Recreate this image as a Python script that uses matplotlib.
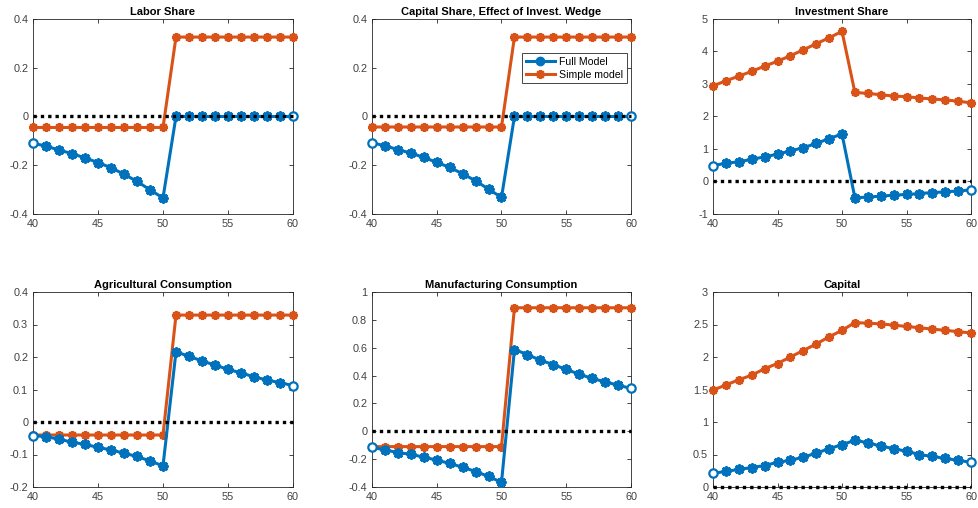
import numpy as np
import matplotlib
matplotlib.use('Agg')
import matplotlib.pyplot as plt
from matplotlib.lines import Line2D

plt.rcParams['font.family'] = ['Liberation Sans', 'DejaVu Sans']

t = np.arange(40, 61)

titles = ['Labor Share', 'Capital Share, Effect of Invest. Wedge', 'Investment Share',
          'Agricultural Consumption', 'Manufacturing Consumption', 'Capital']

# labor share (full / simple)
labor_full = [-0.110, -0.121, -0.138, -0.152, -0.170, -0.189, -0.210, -0.237, -0.266, -0.301, -0.334,
              0, 0, 0, 0, 0, 0, 0, 0, 0, 0]
labor_simple = [-0.045]*11 + [0.326]*10

# capital share, effect of invest. wedge
capsh_full = [-0.108, -0.120, -0.136, -0.150, -0.168, -0.188, -0.209, -0.235, -0.264, -0.298, -0.332,
              0, 0, 0, 0, 0, 0, 0, 0, 0, 0]
capsh_simple = [-0.043]*11 + [0.326]*10

# investment share
inv_full = [0.49, 0.56, 0.61, 0.68, 0.76, 0.84, 0.94, 1.04, 1.17, 1.32, 1.46,
            -0.50, -0.48, -0.45, -0.42, -0.40, -0.37, -0.34, -0.32, -0.29, -0.26]
inv_simple = [2.94, 3.10, 3.24, 3.39, 3.55, 3.70, 3.87, 4.05, 4.24, 4.42, 4.62,
              2.74, 2.71, 2.67, 2.63, 2.61, 2.57, 2.54, 2.51, 2.47, 2.42]

# agricultural consumption
agr_full = [-0.042, -0.045, -0.053, -0.062, -0.069, -0.078, -0.086, -0.096, -0.106, -0.120, -0.135,
            0.216, 0.202, 0.188, 0.175, 0.162, 0.151, 0.139, 0.129, 0.121, 0.112]
agr_simple = [-0.040]*11 + [0.329]*10

# manufacturing consumption
man_full = [-0.115, -0.134, -0.153, -0.165, -0.186, -0.207, -0.231, -0.258, -0.289, -0.324, -0.367,
            0.587, 0.551, 0.510, 0.479, 0.444, 0.410, 0.379, 0.355, 0.331, 0.308]
man_simple = [-0.110]*11 + [0.887]*10

# capital
cap_full = [0.21, 0.24, 0.27, 0.30, 0.33, 0.38, 0.41, 0.46, 0.52, 0.59, 0.65,
            0.72, 0.68, 0.63, 0.59, 0.55, 0.50, 0.47, 0.44, 0.41, 0.38]
cap_simple = [1.49, 1.57, 1.65, 1.72, 1.82, 1.90, 2.00, 2.10, 2.20, 2.31, 2.41,
              2.53, 2.52, 2.51, 2.49, 2.47, 2.45, 2.43, 2.41, 2.39, 2.37]

full = [labor_full, capsh_full, inv_full, agr_full, man_full, cap_full]
simple = [labor_simple, capsh_simple, inv_simple, agr_simple, man_simple, cap_simple]

ylims = [(-0.4, 0.4), (-0.4, 0.4), (-1, 5), (-0.2, 0.4), (-0.4, 1), (0, 3)]
yticks = [np.arange(-0.4, 0.41, 0.2), np.arange(-0.4, 0.41, 0.2), np.arange(-1, 6, 1),
          np.arange(-0.2, 0.41, 0.1), np.arange(-0.4, 1.01, 0.2), np.arange(0, 3.01, 0.5)]
ytlabels = [['-0.4', '-0.2', '0', '0.2', '0.4'], ['-0.4', '-0.2', '0', '0.2', '0.4'],
            ['-1', '0', '1', '2', '3', '4', '5'],
            ['-0.2', '-0.1', '0', '0.1', '0.2', '0.3', '0.4'],
            ['-0.4', '-0.2', '0', '0.2', '0.4', '0.6', '0.8', '1'],
            ['0', '0.5', '1', '1.5', '2', '2.5', '3']]

blue = '#0072BD'
orange = '#D95319'
aster = (8, 2, 0)  # MATLAB-like asterisk

fig = plt.figure(figsize=(9.79, 5.08), dpi=100)
lefts = [33/979, 372/979, 713/979]
widths = [260/979, 259/979, 258/979]
bottoms = [1-214/508, 1-487/508]
h = 195/508

for i in range(6):
    r, c = divmod(i, 3)
    ax = fig.add_axes([lefts[c], bottoms[r], widths[c], h])
    fv = np.array(full[i])
    ax.plot(t, simple[i], color=orange, lw=2.2, marker=aster, ms=6.5, mew=1.6,
            label='Simple model', zorder=3, clip_on=False)
    ax.plot(t, fv, color=blue, lw=2.2, zorder=3, clip_on=False)
    # interior points: circle + asterisk
    ax.plot(t[1:-1], fv[1:-1], ls='none', marker='o', ms=5.5, mew=1.5, mfc='#3a8fd0', mec=blue,
            zorder=4, clip_on=False)
    ax.plot(t[1:-1], fv[1:-1], ls='none', marker=aster, ms=7.5, mew=1.3, mec=blue,
            zorder=4, clip_on=False)
    # end points: hollow circles
    ax.plot(t[[0, -1]], fv[[0, -1]], ls='none', marker='o', ms=6, mew=1.6,
            mfc='white', mec=blue, zorder=4, clip_on=False)
    ax.plot([40, 60], [0, 0], color='black', ls=(0, (1, 1.2)), lw=2.4, zorder=5, clip_on=False)
    ax.set_xlim(40, 60)
    ax.set_ylim(ylims[i])
    ax.set_xticks([40, 45, 50, 55, 60])
    ax.set_yticks(yticks[i])
    ax.set_yticklabels(ytlabels[i])
    ax.set_title(titles[i], fontsize=8, fontweight='bold', pad=3)
    ax.tick_params(direction='in', top=True, right=True, labelsize=7.8, length=3,
                   colors='#262626', labelcolor='#404040', width=0.6)
    for s in ax.spines.values():
        s.set_color('#262626')
        s.set_linewidth(0.6)
    if i == 1:
        hnd = [Line2D([], [], color=blue, lw=2.2, marker='o', ms=6, mfc=blue, mec=blue),
               Line2D([], [], color=orange, lw=2.2, marker=aster, ms=6.5, mew=1.6)]
        leg = ax.legend(hnd, ['Full Model', 'Simple model'], loc='upper left',
                        bbox_to_anchor=(0.579, 0.826),
                        fontsize=7.6, frameon=True, fancybox=False, borderaxespad=0.,
                        handlelength=2.8, handletextpad=0.4, labelspacing=0.3,
                        borderpad=0.35, framealpha=1)
        leg.get_frame().set_edgecolor('#262626')
        leg.get_frame().set_linewidth(0.6)
        leg.set_zorder(10)

fig.savefig('out.png', dpi=100)
